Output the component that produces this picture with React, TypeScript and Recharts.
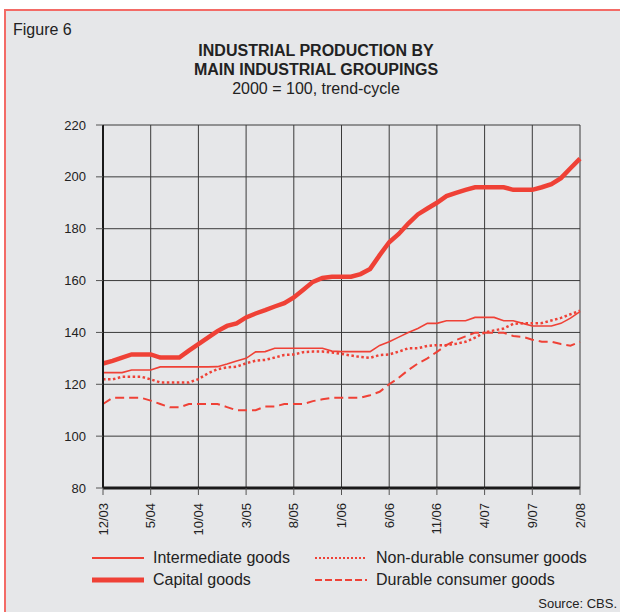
import { CartesianGrid, Line, LineChart, XAxis, YAxis } from "recharts";

const tickLabels = ["12/03", "5/04", "10/04", "3/05", "8/05", "1/06", "6/06", "11/06", "4/07", "9/07", "2/08"];
const yTicks = [80, 100, 120, 140, 160, 180, 200, 220];

// monthly values, 12/03 .. 2/08
const intermediate = [
  124.5, 124.5, 124.5, 125.5, 125.5, 125.5, 126.7, 126.7, 126.7, 126.7, 126.7, 126.7, 126.8, 127.8, 129, 130, 132.5,
  132.6, 133.9, 133.9, 133.9, 133.9, 133.9, 133.9, 132.8, 132.6, 132.6, 132.6, 132.6, 135, 136.4, 138.2, 140, 141.5,
  143.5, 143.5, 144.5, 144.5, 144.5, 145.8, 145.8, 145.8, 144.5, 144.5, 143.5, 142.5, 142.5, 142.5, 143.5, 145.5, 148,
];
const capital = [
  128, 129, 130.3, 131.5, 131.5, 131.5, 130.3, 130.3, 130.3, 133, 135.5, 138, 140.5, 142.5, 143.5, 145.8, 147.3, 148.6,
  150, 151.3, 153.5, 156.5, 159.5, 161, 161.5, 161.5, 161.5, 162.5, 164.5, 169.8, 174.8, 178, 182, 185.5, 187.8, 190,
  192.6, 193.8, 195, 196, 196, 196, 196, 195, 195, 195, 196, 197.2, 199.5, 203.3, 207,
];
const nonDurable = [
  121.9, 121.9, 122.9, 122.9, 122.9, 121.9, 120.7, 120.7, 120.7, 120.7, 122, 124.2, 125.8, 126.5, 126.8, 128.1, 129.1,
  129.4, 130.3, 131.3, 131.5, 132.4, 132.6, 132.6, 132.3, 131.7, 131.1, 130.5, 130.2, 131.3, 131.5, 132.6, 133.9, 133.9,
  134.8, 135.1, 135.1, 135.6, 136.4, 138, 140, 140.8, 141.5, 143.3, 143.5, 143.5, 143.6, 144.6, 145.6, 147, 148.4,
];
const durable = [
  112.4, 114.8, 114.8, 114.8, 114.8, 113.7, 112.4, 111.1, 111.1, 112.4, 112.4, 112.4, 112.4, 111.2, 110, 110, 110, 111.4,
  111.4, 112.4, 112.4, 112.4, 113.5, 114.2, 114.8, 114.8, 114.8, 114.8, 115.8, 117.1, 120, 122.5, 125.5, 128, 130, 132.5,
  135.1, 137, 138.5, 139.9, 139.9, 139.9, 139.9, 138.6, 138.3, 137.2, 136.4, 136.4, 135.5, 134.9, 136.4,
];

const data = capital.map((v, i) => ({
  i,
  intermediate: intermediate[i],
  capital: v,
  nonDurable: nonDurable[i],
  durable: durable[i],
}));

const RED = "#ef4136";
const FONT = "'Liberation Sans', Arial, sans-serif";
const xTicks = tickLabels.map((_, k) => k * 5);

function RotatedTick(props: any) {
  const { x, y, payload } = props;
  return (
    <g transform={`translate(${x},${y})`}>
      <text transform="rotate(-90)" textAnchor="end" dy="0.35em" fontSize={13} fill="#222" fontFamily={FONT}>
        {tickLabels[payload.value / 5]}
      </text>
    </g>
  );
}

function LegendItem({ left, top, label, width, dash }: { left: number; top: number; label: string; width: number; dash?: string }) {
  return (
    <div style={{ position: "absolute", left, top: top - 10, height: 20, display: "flex", alignItems: "center" }}>
      <svg width={54} height={20}>
        <line x1={0} y1={10} x2={52} y2={10} stroke={RED} strokeWidth={width} strokeDasharray={dash} />
      </svg>
      <span style={{ marginLeft: 7, fontSize: 16, color: "#222" }}>{label}</span>
    </div>
  );
}

export default function App() {
  return (
    <div style={{ position: "absolute", left: 0, top: 0, width: 620, height: 612, background: "#fff", fontFamily: FONT, overflow: "hidden" }}>
      <div
        style={{
          position: "absolute",
          left: 4,
          top: 9,
          width: 620,
          height: 610,
          background: "#e6e7e9",
          borderTop: "2px solid #f36b66",
          borderLeft: "2px solid #f36b66",
        }}
      />
      <div style={{ position: "absolute", left: 13, top: 20, fontSize: 16, color: "#222", lineHeight: "20px" }}>Figure 6</div>
      <div style={{ position: "absolute", left: 116, width: 400, top: 41, textAlign: "center", color: "#222", fontSize: 16, lineHeight: "19px" }}>
        <div style={{ fontWeight: "bold" }}>INDUSTRIAL PRODUCTION BY</div>
        <div style={{ fontWeight: "bold" }}>MAIN INDUSTRIAL GROUPINGS</div>
        <div>2000 = 100, trend-cycle</div>
      </div>
      <LineChart
        width={620}
        height={612}
        data={data}
        margin={{ top: 125, right: 40, bottom: 64, left: 43 }}
        style={{ position: "absolute", left: 0, top: 0 }}
      >
        <CartesianGrid stroke="#3a3a3a" strokeWidth={1} />
        <XAxis
          type="number"
          dataKey="i"
          domain={[0, 50]}
          ticks={xTicks}
          height={60}
          tickSize={7}
          tickMargin={8}
          tick={<RotatedTick />}
          axisLine={{ stroke: "#1a1a1a", strokeWidth: 3 }}
          tickLine={{ stroke: "#555" }}
          interval={0}
        />
        <YAxis
          domain={[80, 220]}
          ticks={yTicks}
          width={60}
          tickSize={7}
          tickMargin={10}
          tick={{ fontSize: 13, fill: "#222", fontFamily: FONT }}
          axisLine={{ stroke: "#1a1a1a", strokeWidth: 2 }}
          tickLine={{ stroke: "#555" }}
          interval={0}
        />
        <Line dataKey="durable" stroke={RED} strokeWidth={2} strokeDasharray="9 5" dot={false} isAnimationActive={false} />
        <Line dataKey="nonDurable" stroke={RED} strokeWidth={2.5} strokeDasharray="2.5 2.5" dot={false} isAnimationActive={false} />
        <Line dataKey="intermediate" stroke={RED} strokeWidth={1.6} dot={false} isAnimationActive={false} />
        <Line dataKey="capital" stroke={RED} strokeWidth={4.5} dot={false} isAnimationActive={false} />
      </LineChart>
      <LegendItem left={92} top={558} label="Intermediate goods" width={1.8} />
      <LegendItem left={92} top={580} label="Capital goods" width={5} />
      <LegendItem left={315} top={558} label="Non-durable consumer goods" width={2} dash="2 2" />
      <LegendItem left={315} top={580} label="Durable consumer goods" width={2} dash="7 3" />
      <div style={{ position: "absolute", right: 3, top: 596, fontSize: 13, color: "#222", lineHeight: "16px" }}>Source: CBS.</div>
    </div>
  );
}
